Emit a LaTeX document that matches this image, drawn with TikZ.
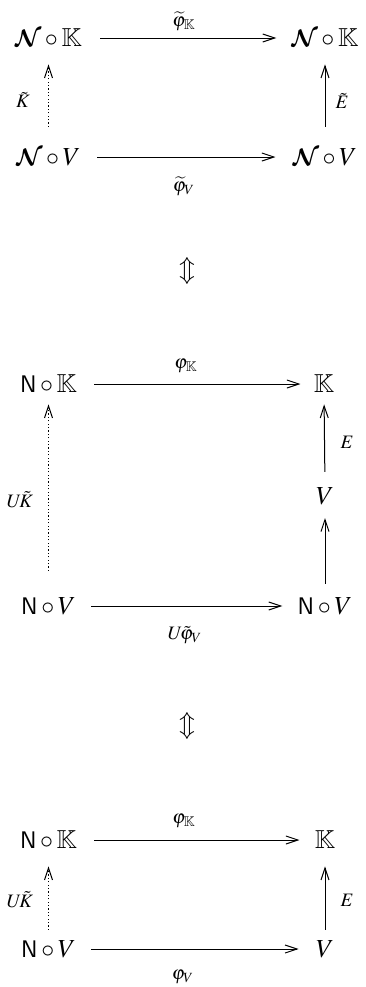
\documentclass[tikz,border=0pt]{standalone}
\usepackage{mathptmx}
\usepackage{amssymb}
\usepackage[scaled=0.92]{helvet}
\DeclareMathAlphabet{\mathcal}{OMS}{cmsy}{b}{n}
\usetikzlibrary{arrows.meta}
\tikzset{
  obj/.style={inner sep=0pt, font=\fontsize{13}{15}\selectfont},
  lbl/.style={inner sep=0pt, font=\fontsize{9.5}{11}\selectfont},
  arr/.style={-{Straight Barb[length=6pt,width=4pt]}, line width=0.5pt},
  dots/.style={dash pattern=on 0.6pt off 1.1pt},
}
\begin{document}
\begin{tikzpicture}[x=0.5pt,y=-0.5pt]
\useasboundingbox (0,0) rectangle (365,987);
% ---------- diagram 1
\node[obj] (a1) at (48.5,38) {$\mathcal{N}\circ\mathbb{K}$};
\node[obj] (b1) at (325,38) {$\mathcal{N}\circ\mathbb{K}$};
\node[obj] (c1) at (48.5,157) {$\mathcal{N}\circ V$};
\node[obj] (d1) at (325,157) {$\mathcal{N}\circ V$};
\draw[arr, shorten <=9pt, shorten >=7.5pt] (a1.east) -- (a1.east -| b1.west);
\draw[arr, shorten <=8pt, shorten >=8.5pt] (c1.east) -- (c1.east -| d1.west);
\draw[arr, dots, shorten <=10.5pt, shorten >=8.5pt] (c1.north) -- (a1.south);
\draw[arr, shorten <=10.5pt, shorten >=8.5pt] (d1.north) -- (b1.south);
\node[lbl] (l1) at (184,21) {$\widetilde{\varphi}_{\mathbb{K}}$};
\node[lbl] (l2) at (184,186) {$\widetilde{\varphi}_{V}$};
\node[lbl] (l3) at (23,100) {$\tilde{K}$};
\node[lbl] (l4) at (342,101) {$\tilde{E}$};
% ---------- equivalence 1
\node[obj] (eq1) at (187,271) {$\Updownarrow$};
% ---------- diagram 2
\node[obj] (a2) at (48.5,384) {$\mathsf{N}\circ\mathbb{K}$};
\node[obj] (b2) at (324,384) {$\mathbb{K}$};
\node[obj] (v2) at (325,496) {$V$};
\node[obj] (c2) at (48.5,606) {$\mathsf{N}\circ V$};
\node[obj] (d2) at (325,606) {$\mathsf{N}\circ V$};
\draw[arr, shorten <=8.5pt, shorten >=6.5pt] (a2.east) -- (a2.east -| b2.west);
\draw[arr, dots, shorten <=13pt, shorten >=5.5pt] (c2.north) -- (a2.south);
\draw[arr, shorten <=7.5pt, shorten >=5.5pt] (v2.north) -- (b2.south);
\draw[arr, shorten <=6.5pt, shorten >=6.5pt] (d2.north) -- (v2.south);
\draw[arr, shorten <=7.5pt, shorten >=7.5pt] (c2.east) -- (c2.east -| d2.west);
\node[lbl] (m1) at (186,366) {$\varphi_{\mathbb{K}}$};
\node[lbl] (m2) at (347,442) {$E$};
\node[lbl] (m3) at (20,500) {$U\!\tilde{K}$};
\node[lbl] (m4) at (185,635) {$U\!\tilde{\varphi}_{V}$};
% ---------- equivalence 2
\node[obj] (eq2) at (187,726) {$\Updownarrow$};
% ---------- diagram 3
\node[obj] (a3) at (48.5,840) {$\mathsf{N}\circ\mathbb{K}$};
\node[obj] (b3) at (325,840) {$\mathbb{K}$};
\node[obj] (c3) at (48.5,949) {$\mathsf{N}\circ V$};
\node[obj] (d3) at (325,949) {$V$};
\draw[arr, shorten <=8.5pt, shorten >=7.5pt] (a3.east) -- (a3.east -| b3.west);
\draw[arr, shorten <=7.5pt, shorten >=8.5pt] (c3.east) -- (c3.east -| d3.west);
\draw[arr, dots, shorten <=5pt, shorten >=8.5pt] (c3.north) -- (a3.south);
\draw[arr, shorten <=5pt, shorten >=8.5pt] (d3.north) -- (b3.south);
\node[lbl] (n1) at (184,821) {$\varphi_{\mathbb{K}}$};
\node[lbl] (n2) at (20,900) {$U\!\tilde{K}$};
\node[lbl] (n3) at (347,900) {$E$};
\node[lbl] (n4) at (183,977) {$\varphi_{V}$};
\end{tikzpicture}
\end{document}
